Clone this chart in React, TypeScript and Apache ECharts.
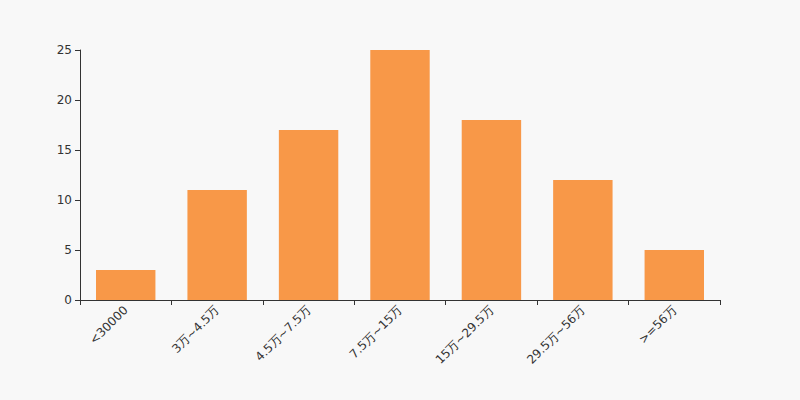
import React, { useEffect, useRef } from "react";
import * as echarts from "echarts";

const categories = ["<30000", "3万~4.5万", "4.5万~7.5万", "7.5万~15万", "15万~29.5万", "29.5万~56万", ">=56万"];
const values = [3, 11, 17, 25, 18, 12, 5];

export default function App() {
  const ref = useRef<HTMLDivElement>(null);
  useEffect(() => {
    const chart = echarts.init(ref.current!, null, { renderer: "svg" });
    chart.setOption({
      animation: false,
      backgroundColor: "#f8f8f8",
      textStyle: { fontFamily: "DejaVu Sans" },
      grid: { left: 80, right: 80, top: 50, bottom: 100 },
      xAxis: {
        type: "category",
        data: categories,
        axisLine: { lineStyle: { color: "#333", width: 1 } },
        axisTick: { show: true, alignWithLabel: false, lineStyle: { color: "#333" } },
        axisLabel: { rotate: 45, color: "#333", fontSize: 12, margin: 8 },
      },
      yAxis: {
        type: "value",
        min: 0,
        max: 25,
        interval: 5,
        axisLine: { show: true, lineStyle: { color: "#333", width: 1 } },
        axisTick: { show: true, lineStyle: { color: "#333" } },
        axisLabel: { color: "#333", fontSize: 12 },
        splitLine: { show: false },
      },
      series: [
        {
          type: "bar",
          data: values,
          barWidth: "65%",
          itemStyle: { color: "#f89848" },
        },
      ],
    });
    return () => chart.dispose();
  }, []);
  return <div ref={ref} style={{ width: 800, height: 400, position: "absolute", left: 0, top: 0 }} />;
}
